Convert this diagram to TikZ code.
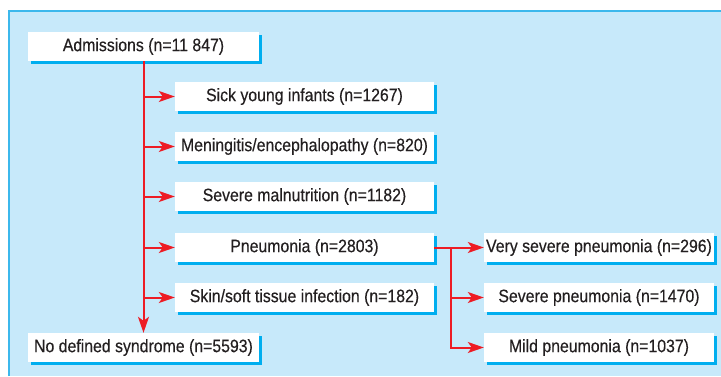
\documentclass[tikz,border=0pt]{standalone}
\usepackage{fontspec}
\setmainfont{Liberation Sans}[FakeStretch=0.88,FakeBold=0.3]
\usetikzlibrary{arrows.meta,shadows}
\definecolor{panelfill}{RGB}{199,233,250}
\definecolor{panelline}{RGB}{60,184,236}
\definecolor{shadowcyan}{RGB}{0,174,239}
\definecolor{arrowred}{RGB}{237,28,36}
\definecolor{txt}{RGB}{35,31,32}
\tikzset{
  box/.style={draw=none, fill=white, inner sep=0pt, minimum height=29pt,
    text=txt, font=\fontsize{18}{20}\selectfont,
    drop shadow={shadow xshift=3pt, shadow yshift=-3pt, fill=shadowcyan, opacity=1}},
  flow/.style={draw=arrowred, line width=2pt, -{Stealth[length=16pt,width=11pt,inset=4pt]}}
}
\begin{document}
\begin{tikzpicture}[x=1pt,y=-1pt]
\useasboundingbox (0,0) rectangle (721,376);
\fill[panelfill] (9,11) rectangle (721,376);
\draw[panelline, line width=1.5pt] (9,376) -- (9,11) -- (721,11);

\node[box, minimum width=231pt] (adm) at (143.5,46.5) {Admissions (n=11 847)};
\node[box, minimum width=259pt] (sick) at (304.5,96.5) {Sick young infants (n=1267)};
\node[box, minimum width=259pt] (men) at (304.5,146.5) {Meningitis/encephalopathy (n=820)};
\node[box, minimum width=259pt] (mal) at (304.5,196.5) {Severe malnutrition (n=1182)};
\node[box, minimum width=259pt] (pneu) at (304.5,247.5) {Pneumonia (n=2803)};
\node[box, minimum width=259pt] (skin) at (304.5,297.5) {Skin/soft tissue infection (n=182)};
\node[box, minimum width=231pt] (nods) at (143.5,347.5) {No defined syndrome (n=5593)};
\node[box, minimum width=230pt] (vsp) at (599,247.5) {Very severe pneumonia (n=296)};
\node[box, minimum width=230pt] (sp) at (599,297.5) {Severe pneumonia (n=1470)};
\node[box, minimum width=230pt] (mild) at (599,347.5) {Mild pneumonia (n=1037)};

\draw[flow] (adm.south) -- (nods.north);
\foreach \n in {sick,men,mal,pneu,skin}
  \draw[flow] (adm.south |- \n.west) -- (\n.west);

\coordinate (j) at (451,247.5);
\draw[flow] (pneu.east) -- (vsp.west);
\draw[flow] (j) |- (mild.west);
\draw[flow] (j |- sp.west) -- (sp.west);
\end{tikzpicture}
\end{document}
